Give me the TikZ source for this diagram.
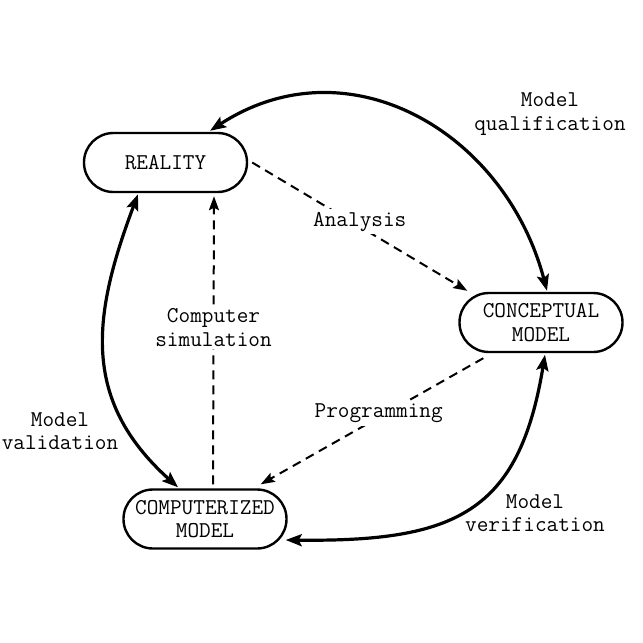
\documentclass[tikz,border=0pt]{standalone}
\usepackage{fontspec}
\usetikzlibrary{arrows.meta,calc}
\begin{document}
\begin{tikzpicture}[x=0.5pt,y=-0.5pt,
  font=\ttfamily\fontsize{11.3pt}{11.8pt}\selectfont,
  stadium/.style={draw,line width=1.2pt,rounded corners=14.7pt,minimum width=81.5pt,minimum height=29.5pt,align=center,inner sep=1pt},
  biarrow/.style={line width=1.6pt,{Stealth[length=8pt,width=6pt,inset=1.5pt]}-{Stealth[length=8pt,width=6pt,inset=1.5pt]}},
  dasharrow/.style={line width=1pt,dash pattern=on 4.5pt off 3pt,-{Stealth[length=7pt,width=5pt,inset=1.2pt]}},
  lbl/.style={align=center,fill=white,inner sep=1.5pt},
  note/.style={align=center}]
\useasboundingbox (0,0) rectangle (643,643);
\node[stadium] (real) at (165.5,162.5) {REALITY};
\node[stadium] (conc) at (541,322.5) {CONCEPTUAL\\MODEL};
\node[stadium] (comp) at (205,519) {COMPUTERIZED\\MODEL};
% solid double-headed arcs
\draw[biarrow] ($(real.north)+(44.5,-1)$) .. controls +(138,-90) and +(-42,-159) .. ($(conc.north)+(6,-1)$);
\draw[biarrow] ($(real.south)+(-27.5,1)$) .. controls +(-45,120) and +(-98,-88) .. ($(comp.north)+(-27,-1)$);
\draw[biarrow] ($(conc.south)+(4,1.5)$) .. controls +(-26,158) and +(170,2) .. ($(comp.east)+(-2,21)$);
% dashed arrows
\draw[dasharrow] ($(real.east)+(4,0)$) -- node[lbl,yshift=2.5pt] {Analysis} ($(conc.north west)+(9,-1)$);
\draw[dasharrow] ($(conc.south west)+(25,5)$) -- node[lbl,pos=0.47,yshift=2pt] {Programming} ($(comp.north east)+(-27,-4)$);
\draw[dasharrow] ($(comp.north)+(8,-4)$) -- node[lbl,pos=0.545] {Computer\\simulation} ($(real.south)+(48.5,3)$);
% labels
\node[note] (qual) at (550,114) {Model\\qualification};
\node[note] (valid) at (60,431) {Model\\validation};
\node[note] (verif) at (535,513) {Model\\verification};
\end{tikzpicture}
\end{document}
